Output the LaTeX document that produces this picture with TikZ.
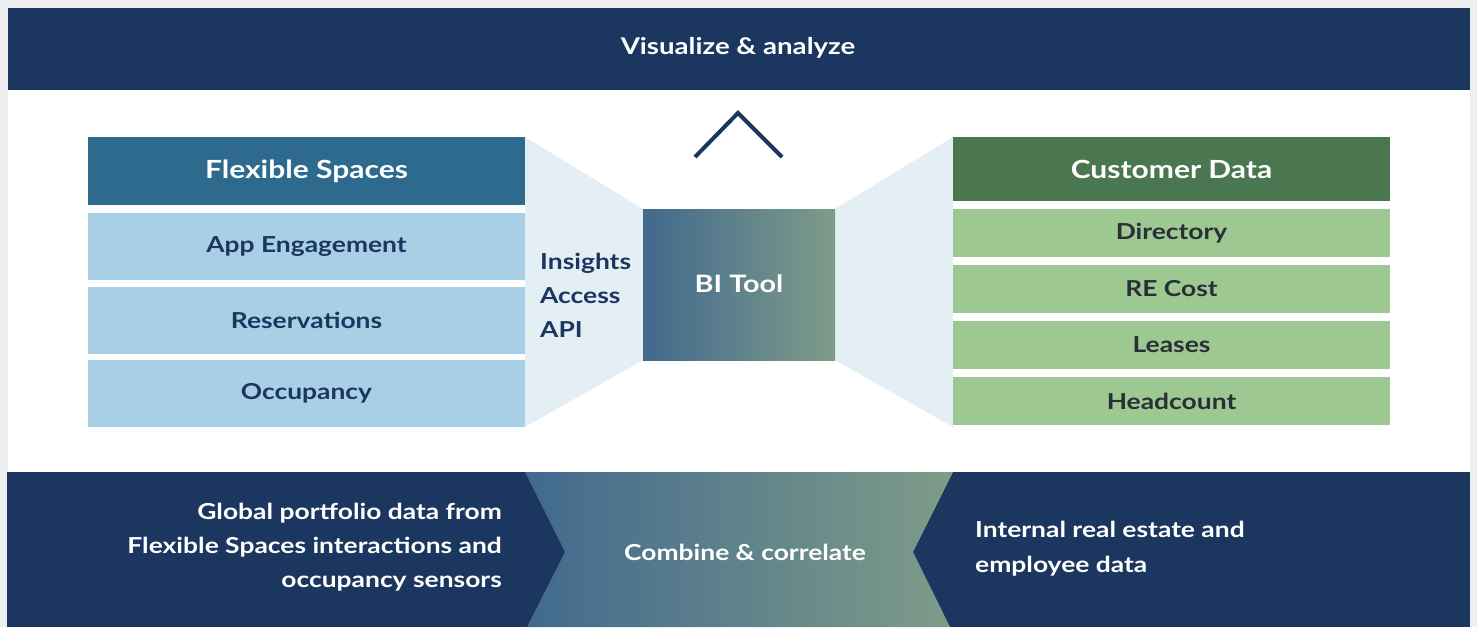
\documentclass[tikz,border=0pt]{standalone}
\usepackage{fontspec}
\setmainfont{Lato}[FakeStretch=1.2]
\definecolor{navy}{HTML}{1B365F}
\definecolor{fsblue}{HTML}{2E6A8E}
\definecolor{lblue}{HTML}{A9CFE7}
\definecolor{funnel}{HTML}{E3EEF5}
\definecolor{dgreen}{HTML}{4B7750}
\definecolor{lgreen}{HTML}{9DC892}
\definecolor{charcoal}{HTML}{2A2F35}
\definecolor{outerbg}{HTML}{EEEFF1}
\definecolor{gradL}{HTML}{41698E}
\definecolor{gradR}{HTML}{7E9C88}
\begin{document}
\begin{tikzpicture}[x=1pt,y=-1pt,
  txt/.style={font=\bfseries\fontsize{22}{34}\selectfont, inner sep=0pt},
  hdr/.style={font=\bfseries\fontsize{25}{30}\selectfont, text=white, inner sep=0pt, minimum width=437pt},
  lbox/.style={fill=lblue, text=navy, font=\bfseries\fontsize{22}{26}\selectfont, inner sep=0pt, minimum width=437pt, minimum height=67pt},
  gbox/.style={fill=lgreen, text=charcoal, font=\bfseries\fontsize{22}{26}\selectfont, inner sep=0pt, minimum width=437pt, minimum height=48pt}]
\useasboundingbox (0,0) rectangle (1477,627);
\fill[outerbg] (0,0) rectangle (1477,627);
% top bar and white area
\fill[white] (8,90) rectangle (1470,472);
\node[fill=navy, minimum width=1462pt, minimum height=82pt, inner sep=0pt] (top) at (739,49) {};
\node[text=white, font=\bfseries\fontsize{23}{28}\selectfont, inner sep=0pt] (toptxt) at (738,48) {Visualize \& analyze};
% bottom band
\fill[navy] (7,472) rectangle (1470,627);
\shade[left color=gradL, right color=gradR] (525,472) -- (953,472) -- (913,552) -- (950,627) -- (527,627) -- (565,552) -- cycle;
% funnels
\fill[funnel] (525,137) -- (643,209) -- (643,360) -- (525,427) -- cycle;
\fill[funnel] (953,137) -- (835,209) -- (835,360) -- (953,427) -- cycle;
% BI tool
\shade[left color=gradL, right color=gradR] (643,209) rectangle (835,360);
\node[text=white, font=\bfseries\fontsize{24}{28}\selectfont, inner sep=0pt] (bi) at (739,284) {BI Tool};
% caret
\coordinate (c1) at (695,157);
\coordinate (c2) at (738,113);
\coordinate (c3) at (782,157);
\draw[navy, line width=4pt, miter limit=10] (c1) -- (c2) -- (c3);
% left column
\node[hdr, fill=fsblue, minimum height=68pt] (fs) at (306.5,171) {Flexible Spaces};
\node[lbox] (app) at (306.5,246.5) {App Engagement};
\node[lbox] (res) at (306.5,320) {Reservations};
\node[lbox] (occ) at (306.5,393.5) {Occupancy};
% right column
\node[hdr, fill=dgreen, minimum height=64pt] (cd) at (1171.5,169) {Customer Data};
\node[gbox] (dir) at (1171.5,233) {Directory};
\node[gbox] (rec) at (1171.5,289) {RE Cost};
\node[gbox] (lea) at (1171.5,345) {Leases};
\node[gbox] (hc) at (1171.5,401) {Headcount};
% insights
\node[txt, text=navy, align=left, anchor=west] (ins) at (540,295) {Insights\\Access\\API};
% bottom texts
\node[txt, text=white, align=right, anchor=east] (gp) at (502,547) {Global portfolio data from\\Flexible Spaces interactions and\\occupancy sensors};
\node[txt, text=white] (cc) at (745,552) {Combine \& correlate};
\node[txt, text=white, align=left, anchor=west, font=\bfseries\fontsize{22}{35}\selectfont] (ir) at (975,548.5) {Internal real estate and\\employee data};
\end{tikzpicture}
\end{document}
